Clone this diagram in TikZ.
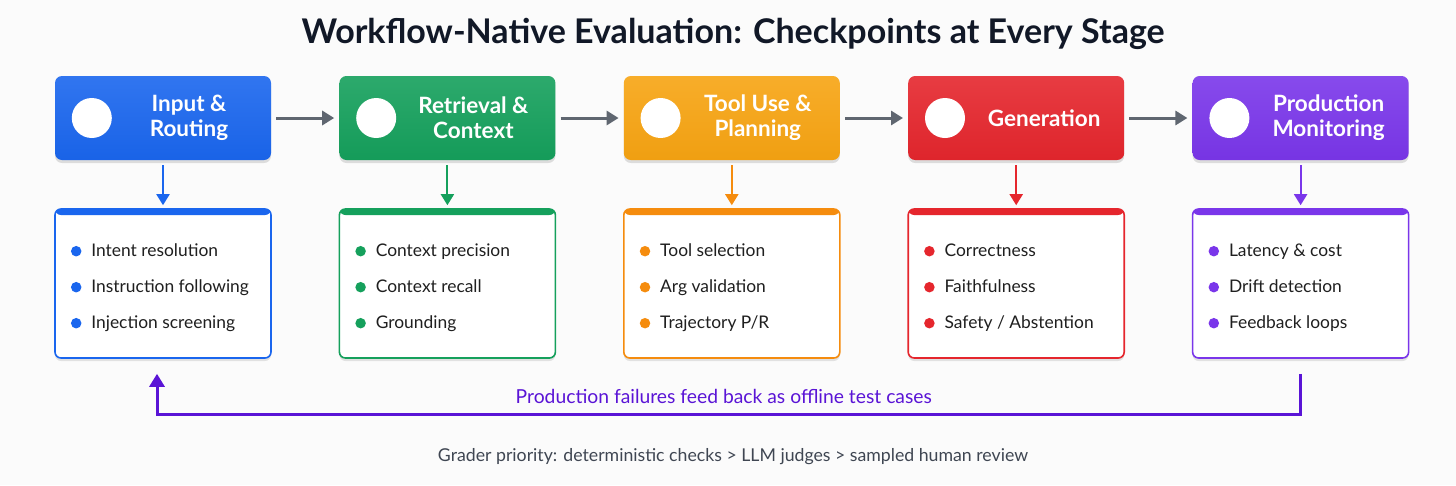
\documentclass[tikz,border=0pt]{standalone}
\usepackage{fontspec}
\setmainfont{Lato}
\usepackage{xcolor}
\usetikzlibrary{positioning, calc, arrows.meta, shadows}

\definecolor{bgcol}{HTML}{FBFBFB}
\definecolor{titlecol}{HTML}{111827}
\definecolor{greycol}{HTML}{5F6670}
\definecolor{footcol}{HTML}{3F4652}
\definecolor{cblue}{HTML}{1A66EE}
\definecolor{cgreen}{HTML}{15A05C}
\definecolor{corange}{HTML}{F7A412}
\definecolor{corangeline}{HTML}{F58C0E}
\definecolor{cred}{HTML}{E5262D}
\definecolor{cpurple}{HTML}{7A36EA}
\definecolor{cfeed}{HTML}{5A14D6}

\newcommand{\itemfont}{\fontsize{17.4pt}{20pt}\selectfont}

\begin{document}
\begin{tikzpicture}[
    x = 1pt, y = -1pt, align = center,
    stage/.style = {
      rectangle, rounded corners = 7pt, minimum width = 216pt,
      minimum height = 84pt, inner sep = 0pt,
      top color = #1!90!white, bottom color = #1!97!black,
      drop shadow = {shadow xshift = 0pt, shadow yshift = -3pt,
        opacity = .12, fill = black}
    },
    stagetext/.style = {
      text = white, font = \fontsize{22.5pt}{25pt}\selectfont\bfseries,
      inner sep = 0pt
    },
    icon/.style = {
      circle, fill = white, minimum size = 40pt, inner sep = 0pt
    },
    listbox/.style = {
      rectangle, rounded corners = 6pt, draw = #1, line width = 1.6pt,
      fill = white, minimum width = 216pt, minimum height = 149pt,
      inner sep = 0pt,
      drop shadow = {shadow xshift = 0pt, shadow yshift = -3pt,
        opacity = .10, fill = black},
      path picture = {
        \fill [#1] (path picture bounding box.north west)
          rectangle ([yshift = -6pt]path picture bounding box.north east);
      }
    },
    dot/.style = {
      circle, fill = #1, minimum size = 10.5pt, inner sep = 0pt
    },
    entry/.style = {
      anchor = west, inner sep = 0pt, font = \itemfont, text = black!88,
      text height = 12.5pt, text depth = 3.5pt
    },
    flow/.style = {
      -{Triangle[width = 14pt, length = 12pt]}, line width = 3pt,
      draw = greycol, shorten < = 5pt, shorten > = 5pt
    },
    down/.style = {
      -{Triangle[width = 13pt, length = 11pt]}, line width = 2pt,
      draw = #1, shorten < = 5pt, shorten > = 3pt
    },
    feedback/.style = {
      -{Triangle[width = 15pt, length = 13pt]}, line width = 3pt,
      draw = cfeed, shorten < = 15pt, shorten > = 15pt
    },
    ]

    \useasboundingbox  (0,0)  rectangle  (1456,485);
    \fill  [bgcol]  (0,0)  rectangle  (1456,485);

    % title
    \node  [font = \fontsize{34pt}{37pt}\selectfont\bfseries, text = titlecol]
      (title)  at  (733,34)  {Workflow-Native Evaluation: Checkpoints at Every Stage};

    % draw stages
    \node  [stage = cblue]  (s1)  at  (163,118)  {};
    \foreach \i/\col [remember = \i as \lasti (initially 1)] in
      {2/cgreen, 3/corange, 4/cred, 5/cpurple}
    \node  [stage = \col]  (s\i)  [right = 68pt of s\lasti]  {};

    \foreach \i in {1, ..., 5}
    \node  [icon]  (icon\i)  at  ([xshift = 37pt]s\i.west)  {};

    \node  [stagetext]  (t1)  at  ([xshift = 26pt]s1.center)  {Input \&\\Routing};
    \node  [stagetext]  (t2)  at  ([xshift = 26pt]s2.center)  {Retrieval \&\\Context};
    \node  [stagetext]  (t3)  at  ([xshift = 26pt]s3.center)  {Tool Use \&\\Planning};
    \node  [stagetext]  (t4)  at  ([xshift = 28pt]s4.center)  {Generation};
    \node  [stagetext]  (t5)  at  ([xshift = 28pt]s5.center)  {Production\\Monitoring};

    % arrows between stages
    \foreach \i [remember = \i as \lasti (initially 1)] in {2, ..., 5}
    \draw  [flow]  (s\lasti)  --  (s\i);

    % metric boxes
    \foreach \i/\col in {1/cblue, 2/cgreen, 3/corangeline, 4/cred, 5/cpurple}
    {
    \node  [listbox = \col]  (l\i)  [below = 48pt of s\i]  {};
    \draw  [down = \col]  (s\i)  --  (l\i);
    }

    % metrics
    \foreach \i/\col/\a/\b/\c in {
      1/cblue/Intent resolution/Instruction following/Injection screening,
      2/cgreen/Context precision/Context recall/Grounding,
      3/corangeline/Tool selection/Arg validation/Trajectory P\slash R,
      4/cred/Correctness/Faithfulness/Safety \slash{} Abstention,
      5/cpurple/Latency \& cost/Drift detection/Feedback loops}
    {
    \node  [dot = \col]  (d\i a)  at  ($(l\i.north west)+(22,43)$)  {};
    \node  [dot = \col]  (d\i b)  at  ($(l\i.north west)+(22,79)$)  {};
    \node  [dot = \col]  (d\i c)  at  ($(l\i.north west)+(22,115)$)  {};
    \node  [entry]  (m\i a)  at  ($(l\i.north west)+(37,44)$)  {\a};
    \node  [entry]  (m\i b)  at  ($(l\i.north west)+(37,80)$)  {\b};
    \node  [entry]  (m\i c)  at  ($(l\i.north west)+(37,116)$)  {\c};
    }

    % loop back to the first stage
    \draw  [feedback]  (l5.south)  --  ++(0,56)  -|  ([xshift = -6pt]l1.south);
    \node  [font = \fontsize{19.3pt}{22pt}\selectfont, text = cfeed]
      (loop)  at  ($(l1.south)!.5!(l5.south)+(-8,38)$)
      {Production failures feed back as offline test cases};

    % footer
    \node  [font = \fontsize{17.7pt}{20pt}\selectfont, text = footcol]
      (grader)  at  (733,457)
      {Grader priority: deterministic checks > LLM judges > sampled human review};
\end{tikzpicture}
\end{document}
